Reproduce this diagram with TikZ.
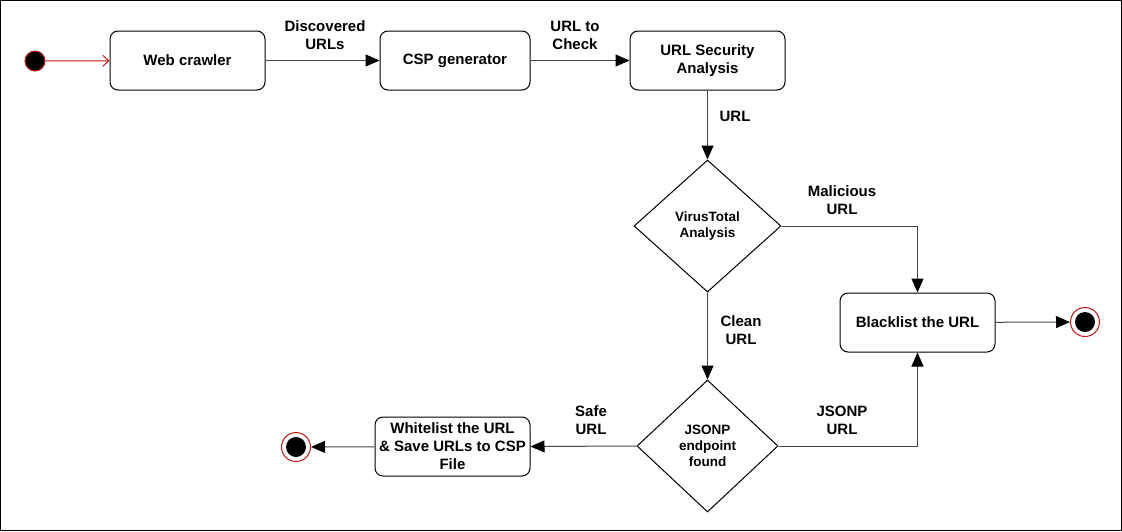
\documentclass[tikz,border=0pt]{standalone}
\usepackage{fontspec}
\setmainfont{Liberation Sans}
\usetikzlibrary{shapes.geometric,arrows.meta}
\definecolor{ln}{RGB}{70,70,70}
\definecolor{rd}{RGB}{200,20,20}
\tikzset{
  box/.style={draw, rounded corners=8pt, minimum width=155pt, minimum height=59pt, inner sep=2pt,
    align=center, font=\fontsize{15}{18}\selectfont\bfseries, line width=1pt},
  dec/.style={draw, diamond, inner sep=0pt, minimum width=#1, minimum height=132pt, align=center,
    font=\fontsize{13.5}{16}\selectfont\bfseries, line width=1pt},
  lbl/.style={align=center, font=\fontsize{15}{18}\selectfont\bfseries, inner sep=0pt},
  flow/.style={draw=ln, line width=1pt, -{Triangle[length=14pt,width=12pt,fill=black,color=black]}},
  startdot/.style={circle, fill=black, draw=rd, line width=1pt, minimum size=20pt, inner sep=0pt},
  endring/.style={circle, draw=rd, fill=white, line width=1pt, minimum size=29pt, inner sep=0pt},
  enddot/.style={circle, fill=black, minimum size=20pt, inner sep=0pt}
}
\begin{document}
\begin{tikzpicture}[x=1pt,y=-1pt]
\useasboundingbox (0,0) rectangle (1122,531);
\draw[line width=1pt] (0.5,0.5) rectangle (1121.5,530.5);

\node[startdot] (start) at (35,61) {};
\node[box] (crawl) at (187.5,60.5) {Web crawler};
\node[box, minimum width=150pt] (csp) at (455,60.5) {CSP generator};
\node[box] (usa) at (707.5,60.5) {URL Security\\Analysis};
\node[dec=147pt] (vt) at (707.5,226) {VirusTotal\\Analysis};
\node[box] (black) at (917.5,322.5) {Blacklist the URL};
\node[endring] (end1) at (1085,322) {};
\node[enddot] at (end1) {};
\node[dec=141pt] (js) at (707.5,446) {JSONP\\endpoint\\found};
\node[box] (white) at (452.5,446.5) {Whitelist the URL\\\& Save URLs to CSP\\File};
\node[endring] (end2) at (296,447) {};
\node[enddot] at (end2) {};

\coordinate (c1) at (917.5,226);
\coordinate (c2) at (917.5,446);

\draw[draw=rd, line width=1pt, -{Straight Barb[length=6pt,width=11pt]}] (start) -- (crawl);
\draw[flow] (crawl) -- (csp);
\draw[flow] (csp) -- (usa);
\draw[flow] (usa) -- (vt.north);
\draw[flow] (vt.east) -- (c1) -- (black.north);
\draw[flow] (black) -- (end1);
\draw[flow] (vt.south) -- (js.north);
\draw[flow] (js.east) -- (c2) -- (black.south);
\draw[flow] (js.west) -- (white.east);
\draw[flow] (white) -- (end2);

\node[lbl] (l1) at (325,35) {Discovered\\URLs};
\node[lbl] (l2) at (575,35) {URL to\\Check};
\node[lbl] (l3) at (735,116) {URL};
\node[lbl] (l4) at (842,200) {Malicious\\URL};
\node[lbl] (l5) at (741,330) {Clean\\URL};
\node[lbl] (l6) at (591,420) {Safe\\URL};
\node[lbl] (l7) at (842,420) {JSONP\\URL};
\end{tikzpicture}
\end{document}
